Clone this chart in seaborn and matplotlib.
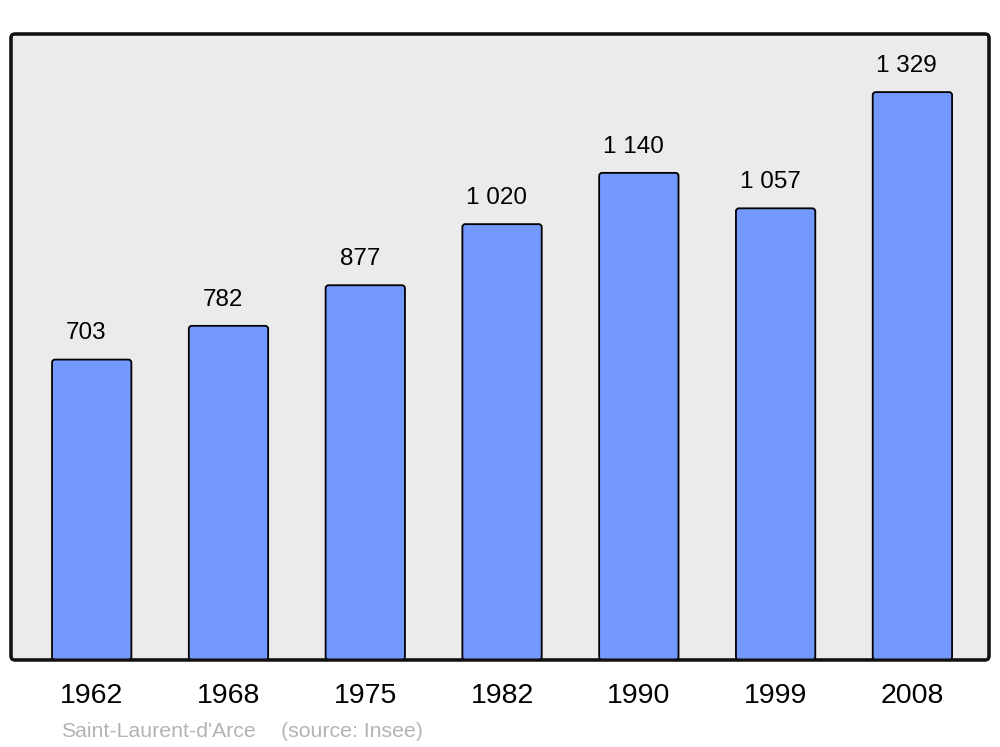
import matplotlib
matplotlib.use("Agg")
import matplotlib.pyplot as plt
from matplotlib.patches import FancyBboxPatch
import seaborn as sns
import pandas as pd

years = ["1962", "1968", "1975", "1982", "1990", "1999", "2008"]
population = [703, 782, 877, 1020, 1140, 1057, 1329]
value_labels = ["703", "782", "877", "1 020", "1 140", "1 057", "1 329"]
caption_place = "Saint-Laurent-d'Arce"
caption_source = "(source: Insee)"

sns.set_style("white")
plt.rcParams["font.family"] = ["Liberation Sans", "DejaVu Sans"]

fig = plt.figure(figsize=(10, 7.47), dpi=100)
ax = fig.add_axes([0.011, 0.1165, 0.978, 0.838])

df = pd.DataFrame({"year": years, "pop": population})
sns.barplot(data=df, x="year", y="pop", color="#7399FF", saturation=1,
            edgecolor="black", linewidth=1.3, width=0.58, ax=ax, zorder=3)

ax.set_xlim(-0.59, 6.56)
ax.set_ylim(0, 1465)
ax.set_facecolor("none")
for s in ax.spines.values():
    s.set_visible(False)

# round the bar corners slightly (geometry taken from seaborn's bars)
px_x = 978 / (6.56 + 0.59)
px_y = 626 / 1465
for p in list(ax.patches):
    x, y, w, h = p.get_x(), p.get_y(), p.get_width(), p.get_height()
    fb = FancyBboxPatch((x, y), w, h,
                        boxstyle="round,pad=0,rounding_size=%f" % (3 / px_x),
                        mutation_aspect=px_x / px_y,
                        facecolor=p.get_facecolor(), edgecolor="black",
                        linewidth=1.3, zorder=3)
    p.set_visible(False)
    ax.add_patch(fb)

frame = FancyBboxPatch((0, 0), 1, 1, boxstyle="round,pad=0,rounding_size=0.004",
                       mutation_aspect=978 / 626, transform=ax.transAxes,
                       facecolor="#EBEBEB", edgecolor="#111111", linewidth=2.2,
                       clip_on=False, zorder=0)
ax.add_patch(frame)
frame2 = FancyBboxPatch((0, 0), 1, 1, boxstyle="round,pad=0,rounding_size=0.004",
                        mutation_aspect=978 / 626, transform=ax.transAxes,
                        facecolor="none", edgecolor="#111111", linewidth=2.2,
                        clip_on=False, zorder=5)
ax.add_patch(frame2)

for i, (v, lab) in enumerate(zip(population, value_labels)):
    ax.annotate(lab, (i, v), xytext=(-4, 14.5), textcoords="offset points",
                ha="center", va="baseline", fontsize=17.5, color="black")

ax.set_xlabel("")
ax.set_ylabel("")
ax.set_yticks([])
ax.tick_params(axis="x", length=0, pad=16.5, labelsize=20.5, labelcolor="black")
for t in ax.get_xticklabels():
    t.set_x(t.get_position()[0])

fig.text(0.061, 1 - 737 / 747, caption_place, fontsize=15.3, color="#b3b3b3", va="baseline")
fig.text(0.281, 1 - 737 / 747, caption_source, fontsize=15.3, color="#b3b3b3", va="baseline")

fig.savefig("out.png", dpi=100, facecolor="white")
